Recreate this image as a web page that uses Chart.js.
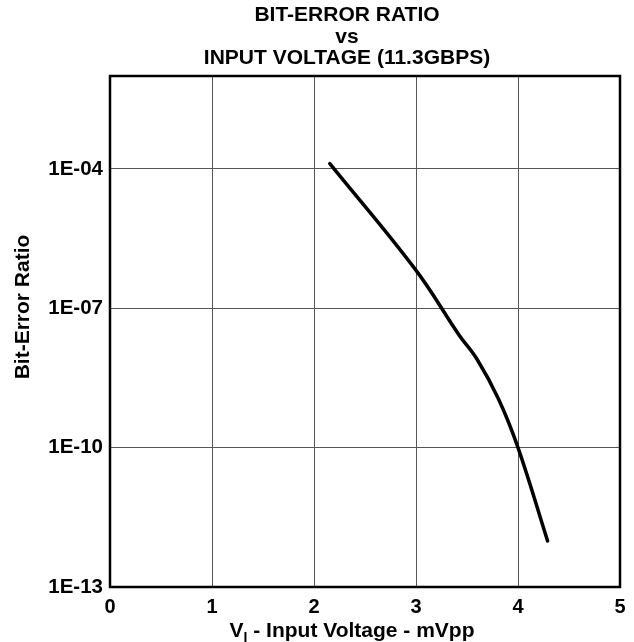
<!DOCTYPE html>
<html lang="en">
<head>
    <meta charset="UTF-8">
    <title>Bit-Error Ratio vs Input Voltage</title>
    <style>
        body {
            margin: 0;
            padding: 0;
            background: white;
        }
    </style>
</head>
<body>
    <canvas id="berChart" width="634" height="642"></canvas>

    <script src="https://cdn.jsdelivr.net/npm/chart.js"></script>
    <script>
        // Curve (input voltage in mVpp, bit-error ratio)
        const voltage = [2.155, 2.995, 3.42, 3.6, 3.81, 4.0, 4.29];
        const berValues = [1.3e-4, 6.8e-7, 2.7e-8, 7.9e-9, 1.1e-9, 1.0e-10, 9.8e-13];

        const yTickValues = [1e-13, 1e-10, 1e-7, 1e-4];
        const yTickLabels = ['1E-13', '1E-10', '1E-07', '1E-04'];
        const xTickLabels = ['0', '1', '2', '3', '4', '5'];
        const titleLines = ['BIT-ERROR RATIO', 'vs', 'INPUT VOLTAGE (11.3GBPS)'];

        const fontFamily = '"Liberation Sans", Arial, sans-serif';

        // Frame round the plot, the title and the two axis titles (the x one has a subscript)
        const framePlugin = {
            id: 'frame',
            afterDraw(chart) {
                const ctx = chart.ctx;
                const a = chart.chartArea;
                ctx.save();
                ctx.strokeStyle = '#000';
                ctx.lineWidth = 2.5;
                ctx.strokeRect(a.left, a.top, a.right - a.left, a.bottom - a.top);

                ctx.fillStyle = '#000';

                // chart title
                ctx.font = 'bold 21px ' + fontFamily;
                ctx.textAlign = 'center';
                ctx.textBaseline = 'alphabetic';
                titleLines.forEach((t, i) => ctx.fillText(t, 347, 21 + i * 21.6));

                // x title: V with subscript I
                ctx.textAlign = 'left';
                const main = 'bold 21px ' + fontFamily;
                const sub = 'bold 14px ' + fontFamily;
                ctx.font = main;
                const wV = ctx.measureText('V').width;
                const rest = ' - Input Voltage - mVpp';
                const wRest = ctx.measureText(rest).width;
                ctx.font = sub;
                const wI = ctx.measureText('I').width;
                let x = 352 - (wV + wI + wRest) / 2;
                const base = 637;
                ctx.font = main;
                ctx.fillText('V', x, base);
                x += wV;
                ctx.font = sub;
                ctx.fillText('I', x, base + 5);
                x += wI;
                ctx.font = main;
                ctx.fillText(rest, x, base);

                // y title
                ctx.translate(23, 307);
                ctx.rotate(-Math.PI / 2);
                ctx.textAlign = 'center';
                ctx.textBaseline = 'middle';
                ctx.font = main;
                ctx.fillText('Bit-Error Ratio', 0, 0);
                ctx.restore();
            }
        };

        new Chart(document.getElementById('berChart'), {
            type: 'line',
            data: {
                datasets: [{
                    data: voltage.map((v, i) => ({ x: v, y: berValues[i] })),
                    borderColor: '#000',
                    borderWidth: 3.5,
                    borderCapStyle: 'round',
                    pointRadius: 0,
                    fill: false,
                    tension: 0.4
                }]
            },
            options: {
                responsive: false,
                animation: false,
                layout: {
                    padding: { left: 0, right: 14, top: 76, bottom: 0 }
                },
                plugins: {
                    legend: { display: false },
                    tooltip: { enabled: false },
                    title: { display: false }
                },
                scales: {
                    x: {
                        type: 'linear',
                        min: 0,
                        max: 5,
                        afterFit(scale) { scale.height = 55; },
                        ticks: {
                            stepSize: 1,
                            padding: 8,
                            color: '#000',
                            font: { family: fontFamily, size: 20, weight: 'bold' },
                            callback: (v) => xTickLabels[v]
                        },
                        grid: { color: '#555', lineWidth: 1, drawTicks: false },
                        border: { display: false }
                    },
                    y: {
                        type: 'logarithmic',
                        min: 1e-13,
                        max: 1e-2,
                        afterFit(scale) { scale.width = 110; },
                        afterBuildTicks(scale) {
                            scale.ticks = yTickValues.map(v => ({ value: v }));
                        },
                        ticks: {
                            padding: 7,
                            color: '#000',
                            font: { family: fontFamily, size: 20.5, weight: 'bold' },
                            callback: (v) => {
                                const i = yTickValues.findIndex(t => Math.abs(Math.log10(t) - Math.log10(v)) < 1e-6);
                                return i >= 0 ? yTickLabels[i] : '';
                            }
                        },
                        grid: { color: '#555', lineWidth: 1, drawTicks: false },
                        border: { display: false }
                    }
                }
            },
            plugins: [framePlugin]
        });
    </script>
</body>
</html>
